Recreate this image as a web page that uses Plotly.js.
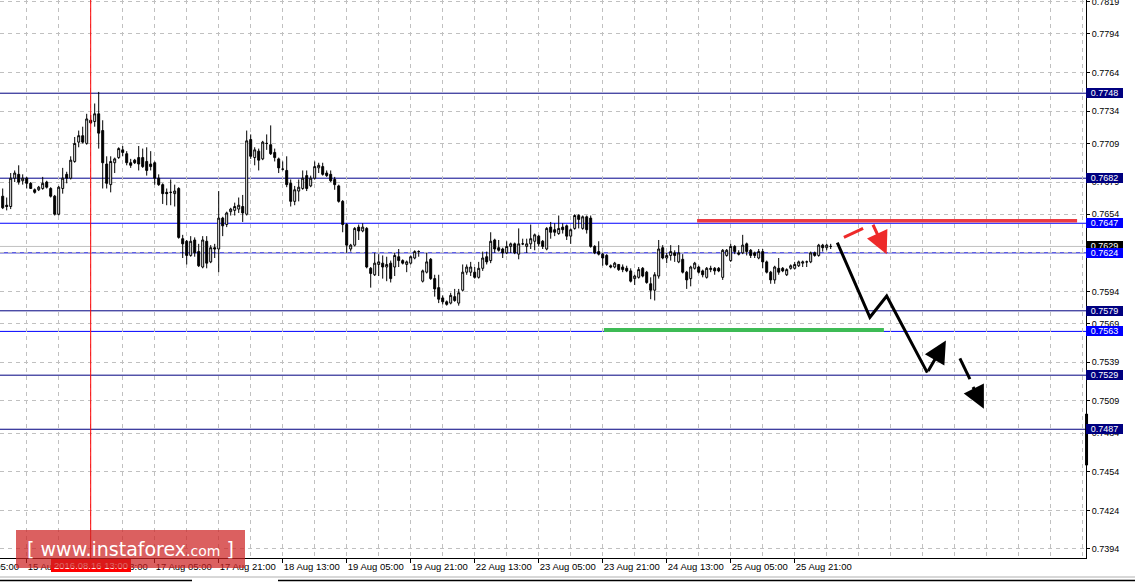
<!DOCTYPE html>
<html><head><meta charset="utf-8">
<script src="https://cdn.plot.ly/plotly-3.0.1.min.js"></script>
<style>html,body{margin:0;padding:0;background:#fff;overflow:hidden}#chart{width:1135px;height:582px}</style>
</head><body><div id="chart"></div>
<script>
// H1 candles, bar 0 = 15 Aug 15:00
const openP=[0.7668,0.7661,0.7660,0.7682,0.7685,0.7680,0.7682,0.7678,0.7673,0.7673,
0.7674,0.7679,0.7674,0.7668,0.7654,0.7674,0.7685,0.7682,0.7695,0.7710,
0.7715,0.7709,0.7727,0.7726,0.7732,0.7719,0.7693,0.7677,0.7694,0.7698,
0.7704,0.7701,0.7694,0.7696,0.7698,0.7698,0.7695,0.7693,0.7694,0.7682,
0.7677,0.7671,0.7671,0.7670,0.7674,0.7635,0.7633,0.7622,0.7634,0.7625,
0.7613,0.7633,0.7617,0.7628,0.7627,0.7651,0.7646,0.7656,0.7657,0.7658,
0.7660,0.7654,0.7712,0.7698,0.7703,0.7697,0.7709,0.7708,0.7702,0.7697,
0.7689,0.7688,0.7678,0.7664,0.7672,0.7674,0.7684,0.7676,0.7682,0.7690,
0.7691,0.7686,0.7685,0.7681,0.7676,0.7664,0.7646,0.7627,0.7630,0.7644,
0.7641,0.7643,0.7612,0.7607,0.7615,0.7616,0.7613,0.7616,0.7613,0.7621,
0.7618,0.7615,0.7616,0.7620,0.7625,0.7602,0.7609,0.7619,0.7604,0.7597,
0.7589,0.7586,0.7585,0.7590,0.7585,0.7595,0.7609,0.7609,0.7609,0.7605,
0.7612,0.7621,0.7618,0.7634,0.7628,0.7627,0.7624,0.7629,0.7631,0.7623,
0.7631,0.7629,0.7631,0.7633,0.7637,0.7633,0.7627,0.7644,0.7642,0.7639,
0.7644,0.7645,0.7637,0.7643,0.7653,0.7643,0.7652,0.7651,0.7629,0.7625,
0.7623,0.7622,0.7614,0.7613,0.7615,0.7613,0.7612,0.7610,0.7604,0.7605,
0.7612,0.7609,0.7600,0.7595,0.7606,0.7628,0.7620,0.7622,0.7624,0.7617,
0.7619,0.7609,0.7604,0.7612,0.7613,0.7610,0.7605,0.7611,0.7612,0.7612,
0.7605,0.7622,0.7618,0.7629,0.7624,0.7624,0.7631,0.7626,0.7624,0.7620,
0.7625,0.7617,0.7609,0.7603,0.7612,0.7612,0.7607,0.7612,0.7612,0.7614,
0.7616,0.7617,0.7617,0.7624,0.7622,0.7630,0.7628,0.7629];
const highP=[0.7674,0.7667,0.7686,0.7688,0.7692,0.7685,0.7683,0.7679,0.7674,0.7676,
0.7683,0.7680,0.7675,0.7669,0.7676,0.7690,0.7687,0.7699,0.7714,0.7719,
0.7722,0.7732,0.7731,0.7740,0.7749,0.7727,0.7699,0.7699,0.7698,0.7706,
0.7707,0.7703,0.7697,0.7697,0.7707,0.7705,0.7706,0.7703,0.7695,0.7685,
0.7678,0.7674,0.7681,0.7677,0.7675,0.7638,0.7634,0.7637,0.7636,0.7631,
0.7637,0.7637,0.7630,0.7631,0.7672,0.7652,0.7656,0.7659,0.7663,0.7667,
0.7669,0.7719,0.7716,0.7706,0.7705,0.7711,0.7716,0.7723,0.7705,0.7698,
0.7695,0.7699,0.7681,0.7676,0.7681,0.7688,0.7688,0.7684,0.7695,0.7694,
0.7694,0.7688,0.7688,0.7683,0.7677,0.7665,0.7647,0.7631,0.7644,0.7646,
0.7647,0.7644,0.7613,0.7624,0.7623,0.7622,0.7621,0.7618,0.7624,0.7627,
0.7619,0.7618,0.7622,0.7626,0.7626,0.7611,0.7624,0.7620,0.7607,0.7607,
0.7591,0.7587,0.7593,0.7596,0.7596,0.7615,0.7615,0.7617,0.7613,0.7617,
0.7625,0.7625,0.7640,0.7635,0.7634,0.7628,0.7633,0.7632,0.7632,0.7643,
0.7635,0.7635,0.7646,0.7639,0.7638,0.7634,0.7644,0.7648,0.7647,0.7653,
0.7647,0.7646,0.7643,0.7654,0.7654,0.7653,0.7653,0.7653,0.7630,0.7633,
0.7624,0.7623,0.7615,0.7617,0.7615,0.7615,0.7614,0.7612,0.7607,0.7613,
0.7613,0.7610,0.7605,0.7609,0.7634,0.7630,0.7624,0.7630,0.7626,0.7630,
0.7623,0.7610,0.7614,0.7617,0.7614,0.7611,0.7613,0.7614,0.7613,0.7613,
0.7627,0.7627,0.7631,0.7630,0.7626,0.7638,0.7632,0.7627,0.7625,0.7627,
0.7627,0.7618,0.7610,0.7614,0.7620,0.7613,0.7612,0.7615,0.7617,0.7618,
0.7618,0.7618,0.7625,0.7625,0.7631,0.7631,0.7631,0.7631];
const lowP=[0.7658,0.7657,0.7658,0.7679,0.7677,0.7677,0.7674,0.7674,0.7670,0.7672,
0.7673,0.7674,0.7667,0.7653,0.7653,0.7670,0.7678,0.7681,0.7694,0.7706,
0.7709,0.7708,0.7724,0.7722,0.7705,0.7674,0.7674,0.7671,0.7686,0.7697,
0.7699,0.7692,0.7690,0.7693,0.7688,0.7690,0.7684,0.7688,0.7677,0.7676,
0.7662,0.7661,0.7661,0.7660,0.7635,0.7620,0.7615,0.7621,0.7621,0.7613,
0.7612,0.7612,0.7616,0.7620,0.7609,0.7637,0.7644,0.7653,0.7653,0.7655,
0.7648,0.7653,0.7697,0.7692,0.7688,0.7696,0.7704,0.7700,0.7695,0.7686,
0.7688,0.7675,0.7660,0.7661,0.7664,0.7673,0.7672,0.7675,0.7681,0.7686,
0.7684,0.7683,0.7679,0.7673,0.7663,0.7640,0.7624,0.7625,0.7629,0.7634,
0.7640,0.7612,0.7597,0.7606,0.7606,0.7604,0.7602,0.7601,0.7606,0.7613,
0.7615,0.7609,0.7615,0.7619,0.7621,0.7601,0.7608,0.7603,0.7590,0.7585,
0.7584,0.7583,0.7584,0.7586,0.7583,0.7594,0.7607,0.7606,0.7604,0.7604,
0.7610,0.7615,0.7616,0.7624,0.7625,0.7620,0.7623,0.7624,0.7623,0.7619,
0.7630,0.7624,0.7627,0.7626,0.7629,0.7627,0.7626,0.7635,0.7637,0.7638,
0.7639,0.7634,0.7631,0.7642,0.7643,0.7642,0.7639,0.7628,0.7623,0.7622,
0.7614,0.7614,0.7612,0.7612,0.7610,0.7609,0.7609,0.7601,0.7599,0.7604,
0.7605,0.7600,0.7588,0.7587,0.7604,0.7619,0.7616,0.7618,0.7617,0.7616,
0.7608,0.7596,0.7598,0.7611,0.7608,0.7605,0.7604,0.7609,0.7607,0.7609,
0.7603,0.7621,0.7617,0.7623,0.7622,0.7623,0.7622,0.7620,0.7620,0.7619,
0.7612,0.7608,0.7600,0.7600,0.7607,0.7609,0.7606,0.7611,0.7611,0.7613,
0.7613,0.7613,0.7616,0.7621,0.7621,0.7625,0.7626,0.7627];
const closeP=[0.7659,0.7660,0.7682,0.7686,0.7679,0.7682,0.7678,0.7674,0.7671,0.7675,
0.7678,0.7675,0.7668,0.7654,0.7675,0.7682,0.7682,0.7696,0.7709,0.7715,
0.7710,0.7728,0.7725,0.7732,0.7717,0.7694,0.7678,0.7695,0.7697,0.7705,
0.7702,0.7694,0.7692,0.7694,0.7693,0.7691,0.7688,0.7691,0.7682,0.7677,
0.7670,0.7670,0.7671,0.7672,0.7636,0.7631,0.7622,0.7633,0.7624,0.7614,
0.7634,0.7616,0.7628,0.7627,0.7651,0.7645,0.7655,0.7658,0.7660,0.7661,
0.7655,0.7711,0.7699,0.7704,0.7696,0.7710,0.7709,0.7701,0.7698,0.7690,
0.7689,0.7677,0.7664,0.7673,0.7675,0.7682,0.7674,0.7682,0.7691,0.7692,
0.7685,0.7684,0.7680,0.7677,0.7664,0.7646,0.7630,0.7630,0.7643,0.7641,
0.7644,0.7613,0.7608,0.7616,0.7617,0.7613,0.7615,0.7604,0.7622,0.7618,
0.7616,0.7617,0.7621,0.7625,0.7625,0.7610,0.7617,0.7604,0.7596,0.7588,
0.7586,0.7584,0.7591,0.7587,0.7593,0.7609,0.7613,0.7613,0.7605,0.7612,
0.7620,0.7617,0.7633,0.7627,0.7626,0.7624,0.7629,0.7631,0.7624,0.7631,
0.7631,0.7631,0.7635,0.7638,0.7631,0.7629,0.7643,0.7640,0.7640,0.7643,
0.7642,0.7637,0.7642,0.7653,0.7650,0.7652,0.7642,0.7629,0.7624,0.7623,
0.7620,0.7615,0.7613,0.7616,0.7611,0.7611,0.7610,0.7602,0.7606,0.7611,
0.7606,0.7601,0.7595,0.7607,0.7627,0.7620,0.7622,0.7625,0.7622,0.7624,
0.7609,0.7603,0.7613,0.7616,0.7609,0.7607,0.7612,0.7612,0.7610,0.7610,
0.7626,0.7626,0.7629,0.7625,0.7623,0.7630,0.7625,0.7622,0.7622,0.7625,
0.7617,0.7609,0.7603,0.7613,0.7609,0.7610,0.7611,0.7614,0.7615,0.7617,
0.7617,0.7617,0.7624,0.7622,0.7630,0.7628,0.7630,0.7629];

const timeTickBars=[6,22,38,54,70,86,102,118,134,150,166,182,198];
const timeTickLabels=["15 Aug 21:00","16 Aug 13:00","17 Aug 05:00","17 Aug 21:00","18 Aug 13:00","19 Aug 05:00","19 Aug 21:00","22 Aug 13:00","23 Aug 05:00","23 Aug 21:00","24 Aug 13:00","25 Aug 05:00","25 Aug 21:00"];
const firstCutLabel="15 Aug 05:00";
const priceTicks=[0.7819,0.7794,0.7764,0.7734,0.7709,0.7679,0.7654,0.7624,0.7594,0.7569,0.7539,0.7509,0.7484,0.7454,0.7424,0.7394];

const levelPrices=[0.7748,0.7682,0.7647,0.7624,0.7579,0.7563,0.7529,0.7487];
const levelLabelColors=["#000080","#000080","#0000ff","#0000ff","#000080","#0000ff","#000080","#000080"];
const levelLineColors=["#000080","#00008b","#0000ff","#0000cd","#000080","#0000ff","#000080","#000080"];
const bidPrice=0.7629;
const cursorBar=22, cursorLabel="2016.08.16 13:00";

const resistance={bars:[173.6,268.6],price:[0.7649,0.7649]};
const support={bars:[150.3,220.3],price:[0.7564,0.7564]};
const mainPathBars=[208.65,216.8,221.0,231.15];
const mainPathPrices=[0.7632,0.7574,0.75905,0.7531];
const upArrow={tail:[231.15,0.7531],head:[235.8,0.7556]};
const dashPieceBars=[239.3,241.8], dashPiecePrices=[0.7542,0.7526];
const dashArrow={tail:[242.4,0.7521],head:[245.3,0.7503]};
const redDashBars=[210.3,215.1], redDashPrices=[0.7636,0.7643];
const redArrow={tail:[217.4,0.7647],head:[221.0,0.7623]};
const axisMarker=[0.7499,0.7459];

const bars=openP.map((_,i)=>i);
const FONT="'Liberation Sans', Arial, sans-serif";
const GRID="#c0c0c0";
const PLOT_W=1086, PLOT_H=558;

const traces=[
 {type:'candlestick',x:bars,open:openP,high:highP,low:lowP,close:closeP,
  increasing:{line:{color:'#000',width:1},fillcolor:'#fff'},
  decreasing:{line:{color:'#000',width:1},fillcolor:'#000'},
  whiskerwidth:0,hoverinfo:'skip',showlegend:false},
 {type:'scatter',mode:'lines',x:resistance.bars,y:resistance.price,line:{color:'#ec3b42',width:3.5},hoverinfo:'skip',showlegend:false},
 {type:'scatter',mode:'lines',x:support.bars,y:support.price,line:{color:'#3dbb55',width:4},hoverinfo:'skip',showlegend:false},
 {type:'scatter',mode:'lines',x:mainPathBars,y:mainPathPrices,line:{color:'#000',width:3},hoverinfo:'skip',showlegend:false},
 {type:'scatter',mode:'lines',x:dashPieceBars,y:dashPiecePrices,line:{color:'#000',width:3},hoverinfo:'skip',showlegend:false},
 {type:'scatter',mode:'lines',x:redDashBars,y:redDashPrices,line:{color:'#ee2a2a',width:3},hoverinfo:'skip',showlegend:false}
];

const shapes=[];
shapes.push({type:'line',xref:'paper',x0:0,x1:1,yref:'y',y0:bidPrice,y1:bidPrice,line:{color:'#c0c0c0',width:1},layer:'between'});
levelPrices.forEach((p,k)=>shapes.push({type:'line',xref:'paper',x0:0,x1:1,yref:'y',y0:p,y1:p,line:{color:levelLineColors[k],width:1},layer:'between'}));
shapes.push({type:'line',xref:'x',x0:cursorBar,x1:cursorBar,yref:'paper',y0:0,y1:1,line:{color:'#ff0000',width:1},layer:'above'});
shapes.push({type:'line',xref:'paper',x0:1.0005,x1:1.0005,yref:'y',y0:axisMarker[0],y1:axisMarker[1],line:{color:'#000',width:3},layer:'above'});
// window bottom strip
shapes.push({type:'line',xref:'paper',yref:'paper',x0:0,x1:1135/PLOT_W,y0:-19/PLOT_H,y1:-19/PLOT_H,line:{color:'#b0b0b0',width:1},layer:'above'});
shapes.push({type:'line',xref:'paper',yref:'paper',x0:0,x1:192/PLOT_W,y0:-22.5/PLOT_H,y1:-22.5/PLOT_H,line:{color:'#000',width:1.5},layer:'above'});
shapes.push({type:'line',xref:'paper',yref:'paper',x0:278/PLOT_W,x1:1135/PLOT_W,y0:-22.5/PLOT_H,y1:-22.5/PLOT_H,line:{color:'#000',width:1.5},layer:'above'});

const ann=[];
ann.push({xref:'paper',x:1,xanchor:'left',yref:'y',y:bidPrice,yanchor:'middle',text:bidPrice.toFixed(4),showarrow:false,
  font:{family:FONT,size:9,color:'#fff'},bgcolor:'#000',width:37,height:10,borderwidth:0,borderpad:0});
levelPrices.forEach((p,k)=>ann.push({xref:'paper',x:1,xanchor:'left',yref:'y',y:p,yanchor:'middle',text:p.toFixed(4),showarrow:false,
  font:{family:FONT,size:9,color:'#fff'},bgcolor:levelLabelColors[k],width:37,height:10,borderwidth:0,borderpad:0}));
// cut-off first time label (starts left of the window)
ann.push({xref:'paper',x:-37/PLOT_W,xanchor:'left',yref:'paper',y:0,yanchor:'top',yshift:-3,text:firstCutLabel,showarrow:false,
  font:{family:FONT,size:9.5,color:'#000'},borderpad:0,borderwidth:0});
function arrow(a,color){return {xref:'x',yref:'y',axref:'x',ayref:'y',x:a.head[0],y:a.head[1],ax:a.tail[0],ay:a.tail[1],
  text:'',showarrow:true,arrowhead:2,arrowsize:1.5,arrowwidth:3,arrowcolor:color,standoff:0,startstandoff:0};}
ann.push(arrow(upArrow,'#000'));
ann.push(arrow(dashArrow,'#000'));
ann.push(arrow(redArrow,'#ee2a2a'));
ann.push({xref:'x',x:cursorBar,xanchor:'center',yref:'paper',y:0,yanchor:'top',yshift:-1,text:cursorLabel,showarrow:false,
  font:{family:FONT,size:9.5,color:'#fff'},bgcolor:'#ff0000',width:80,height:13,borderwidth:0,borderpad:0});
ann.push({xref:'paper',x:130.5/PLOT_W,xanchor:'center',yref:'paper',y:9/PLOT_H,yanchor:'middle',
  text:"[ www.instaforex<span style='font-size:14px'>.com</span> ]",showarrow:false,
  font:{family:"'DejaVu Sans', sans-serif",size:19,color:'#fff'},bgcolor:'rgba(205,35,35,0.72)',width:227,height:36,borderwidth:0,borderpad:1});

const layout={
 width:1135,height:582,margin:{l:0,r:49,t:0,b:24},paper_bgcolor:'#fff',plot_bgcolor:'#fff',
 showlegend:false,hovermode:false,boxgap:0.3,
 xaxis:{range:[-0.675,270.825],rangeslider:{visible:false},tickmode:'array',tickvals:timeTickBars,ticktext:timeTickLabels,
   ticks:'outside',ticklen:4,tickcolor:'#000',ticklabelposition:'outside right',tickangle:0,ticklabeloverflow:'allow',
   tickfont:{family:FONT,size:9.5,color:'#000'},showgrid:true,gridcolor:GRID,griddash:'4px,4px',gridwidth:1,
   minor:{tickmode:'linear',tick0:6,dtick:8,showgrid:true,gridcolor:GRID,griddash:'4px,4px',gridwidth:1,ticks:''},
   showline:true,linecolor:'#000',linewidth:1,zeroline:false,fixedrange:true},
 yaxis:{side:'right',range:[0.73870,0.78204],tickmode:'array',tickvals:priceTicks,ticktext:priceTicks.map(v=>v.toFixed(4)),
   ticks:'outside',ticklen:3,tickcolor:'#000',tickfont:{family:FONT,size:9,color:'#000'},ticklabeloverflow:'allow',
   showgrid:true,gridcolor:GRID,griddash:'4px,4px',gridwidth:1,showline:true,linecolor:'#000',linewidth:1,zeroline:false,fixedrange:true},
 shapes:shapes,annotations:ann
};
Plotly.newPlot('chart',traces,layout,{displayModeBar:false,staticPlot:true});
</script></body></html>
